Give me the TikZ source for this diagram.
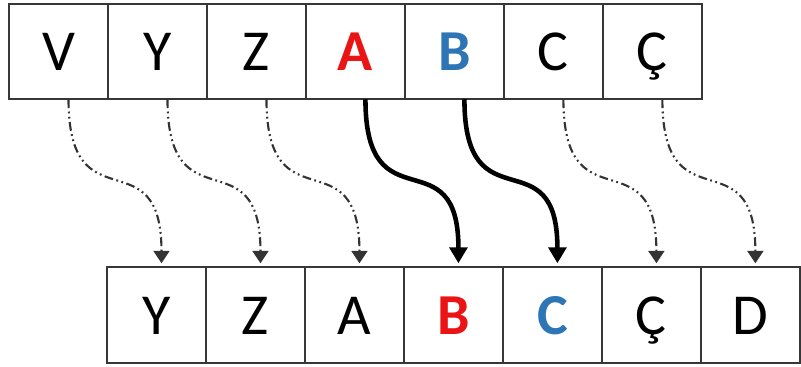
\documentclass[tikz,border=0pt]{standalone}
\usepackage{fontspec}
\setmainfont{Carlito}
\usetikzlibrary{arrows.meta,positioning}
\definecolor{hotred}{RGB}{235,20,20}
\definecolor{hotblue}{RGB}{46,117,182}
\definecolor{boxline}{RGB}{55,55,55}

\begin{document}
\begin{tikzpicture}[x=0.02cm,y=-0.02cm,
  cell/.style={draw=boxline,line width=1.3pt,minimum width=1.98cm,
    minimum height=1.91cm,outer sep=0pt,inner sep=0pt,
    text height=0.76cm,text depth=0cm,font=\fontsize{33}{36}\selectfont},
  plain/.style={},
  redletter/.style={text=hotred,font=\fontsize{33}{36}\selectfont\bfseries},
  blueletter/.style={text=hotblue,font=\fontsize{33}{36}\selectfont\bfseries},
  moved/.style={draw=black!80,line width=1.2pt,
    dash pattern=on 5pt off 2pt on 1pt off 2pt on 1pt off 2pt,
    -{Triangle[width=9pt,length=7pt]}},
  swapped/.style={draw=black,line width=2.6pt,
    -{Triangle[width=10pt,length=9pt]}}]

\useasboundingbox (0,0) rectangle (801,366);

% Top row
\node[cell] (top0) at (58.5,51.5) {V};
\foreach \i/\prev/\name/\sty in {1/0/Y/plain,2/1/Z/plain,3/2/A/redletter,
  4/3/B/blueletter,5/4/C/plain,6/5/Ç/plain} {
  \node[cell,\sty,right=0pt of top\prev] (top\i) {\name};
}

% Bottom row
\node[cell] (bot0) at (156.5,315) {Y};
\foreach \i/\prev/\name/\sty in {1/0/Z/plain,2/1/A/plain,3/2/B/redletter,
  4/3/C/blueletter,5/4/Ç/plain,6/5/D/plain} {
  \node[cell,\sty,right=0pt of bot\prev] (bot\i) {\name};
}

% Shifts
\foreach \i/\sty in {0/moved,1/moved,2/moved,3/swapped,4/swapped,
  5/moved,6/moved} {
  \draw[\sty] ([xshift=0.2cm]top\i.south)
    to[out=-90,in=90,looseness=1.75] ([xshift=0.1cm,yshift=0.08cm]bot\i.north);
}
\end{tikzpicture}
\end{document}
